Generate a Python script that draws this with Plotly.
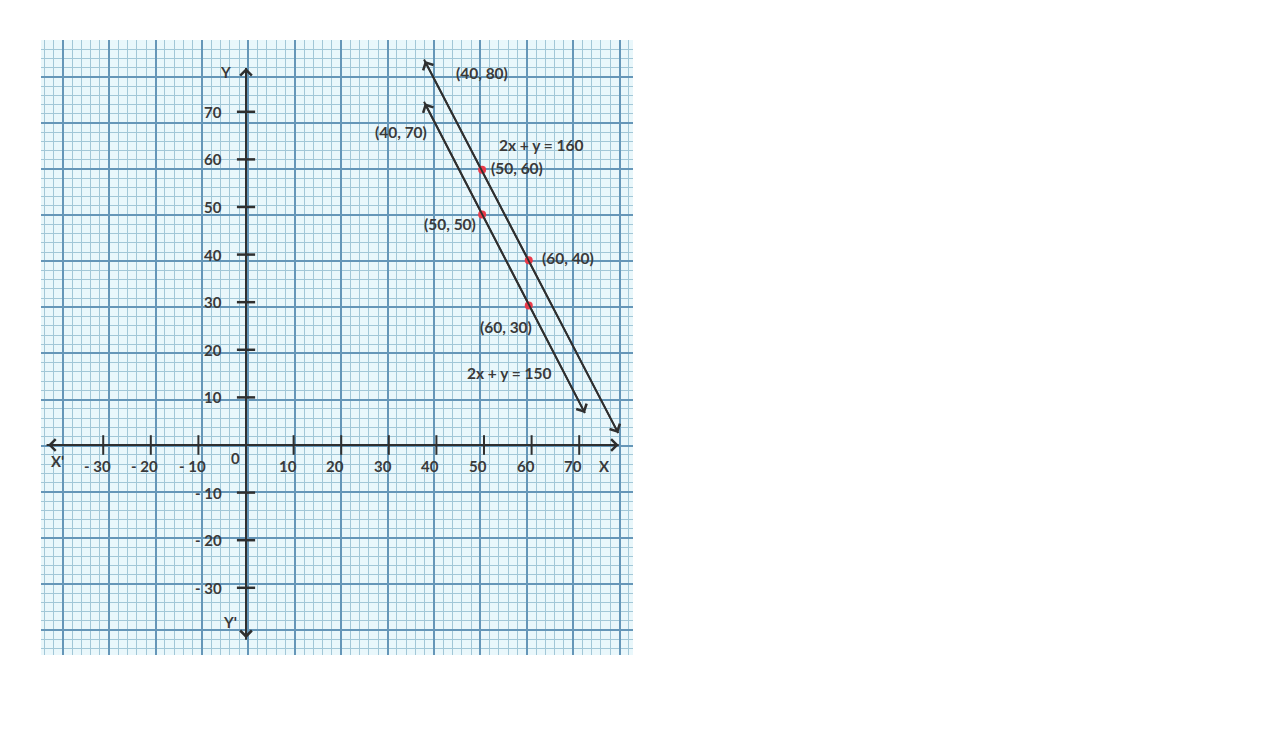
import plotly.graph_objects as go

# hand-drawn axes: tick values and their printed labels
x_ticks = [-30, -20, -10, 10, 20, 30, 40, 50, 60, 70]
x_tick_text = ["- 30", "- 20", "- 10", "10", "20", "30", "40", "50", "60", "70"]
y_ticks = [70, 60, 50, 40, 30, 20, 10, -10, -20, -30]
y_tick_text = ["70", "60", "50", "40", "30", "20", "10", "- 10", "- 20", "- 30"]

# the two lines as drawn, arrow tip to arrow tip
line160_x = [37.4, 78.2]
line160_y = [81.0, 2.5]
line150_x = [37.4, 71.2]
line150_y = [72.1, 6.7]

# red points, where they sit on the drawing
pts_x = [49.6, 59.4, 49.6, 59.4]
pts_y = [57.8, 38.8, 48.4, 29.3]

# labels written next to the lines
note_text = ["(40, 80)", "(40, 70)", "2x + y = 160", "(50, 60)",
             "(50, 50)", "(60, 40)", "(60, 30)", "2x + y = 150"]
note_x = [49.5, 32.5, 62.0, 57.0, 42.9, 67.6, 54.6, 55.3]
note_y = [78.1, 65.8, 63.0, 58.1, 46.4, 39.2, 24.7, 15.1]

INK = "#2f2f2f"
TXT = "#3a3a3a"
FONT = dict(family="Lato", size=15, color=TXT, weight="bold")
NOTE_FONT = dict(family="Lato", size=15.5, color=TXT, weight="bold")

fig = go.Figure()

# dummy trace so the graph-paper subplot is drawn
fig.add_trace(go.Scatter(x=[0], y=[0], mode="markers", marker=dict(opacity=0),
                         hoverinfo="skip", showlegend=False))


def arrow_line(xs, ys, width=2):
    fig.add_trace(go.Scatter(x=xs, y=ys, mode="lines", line=dict(color=INK, width=width),
                             xaxis="x2", yaxis="y2", hoverinfo="skip", showlegend=False))
    fig.add_annotation(x=xs[1], y=ys[1], ax=xs[0], ay=ys[0],
                       xref="x2", yref="y2", axref="x2", ayref="y2", text="",
                       showarrow=True, arrowside="end+start",
                       arrowhead=4, startarrowhead=4, arrowsize=1.25, startarrowsize=1.25,
                       arrowwidth=1.8, arrowcolor=INK)


# axes
arrow_line([-41.9, 78.3], [0, 0])
arrow_line([0, 0], [-40.9, 79.2])

fig.add_trace(go.Scatter(x=x_ticks, y=[0] * len(x_ticks), mode="markers",
                         marker=dict(symbol="line-ns", size=14, color=INK, line=dict(width=2, color=INK)),
                         xaxis="x2", yaxis="y2", hoverinfo="skip", showlegend=False))
fig.add_trace(go.Scatter(x=[0] * len(y_ticks), y=y_ticks, mode="markers",
                         marker=dict(symbol="line-ew", size=13, color=INK, line=dict(width=2.5, color=INK)),
                         xaxis="x2", yaxis="y2", hoverinfo="skip", showlegend=False))

# the two lines
arrow_line(line160_x, line160_y)
arrow_line(line150_x, line150_y)

fig.add_trace(go.Scatter(x=pts_x, y=pts_y, mode="markers",
                         marker=dict(size=8, color="#ea3a4a"),
                         xaxis="x2", yaxis="y2", hoverinfo="skip", showlegend=False))

for v, t in zip(x_ticks, x_tick_text):
    fig.add_annotation(x=v, y=0, xref="x2", yref="y2", text=t, showarrow=False,
                       xshift=-6, yshift=-21, font=FONT)
for v, t in zip(y_ticks, y_tick_text):
    fig.add_annotation(x=0, y=v, xref="x2", yref="y2", text=t, showarrow=False,
                       xanchor="right", xshift=-22, font=FONT)

for t, x, y in zip(["Y", "Y'", "X'", "X", "0"], [-4.4, -3.4, -39.5, 75.4, -2.3],
                   [78.4, -37.2, -3.4, -4.4, -2.7]):
    fig.add_annotation(x=x, y=y, xref="x2", yref="y2", text=t, showarrow=False, font=FONT)

for t, x, y in zip(note_text, note_x, note_y):
    fig.add_annotation(x=x, y=y, xref="x2", yref="y2", text=t, showarrow=False, font=NOTE_FONT)

grid = dict(showgrid=True, gridcolor="#6596b8", gridwidth=1.5, dtick=1, tick0=0,
            minor=dict(dtick=0.2, tick0=0, showgrid=True, gridcolor="#a2c7d7", gridwidth=1),
            showticklabels=False, zeroline=False, showline=False, ticks="", fixedrange=True)

fig.update_layout(
    width=1275, height=747,
    margin=dict(l=41, r=642, t=40, b=92),
    paper_bgcolor="white", plot_bgcolor="#e9f7fb",
    showlegend=False,
    xaxis=dict(range=[-0.468, 12.29], **grid),
    yaxis=dict(range=[-1.54, 11.80], **grid),
    xaxis2=dict(range=[-43.07, 81.30], overlaying="x", anchor="y2", visible=False, fixedrange=True),
    yaxis2=dict(range=[-44.12, 85.08], overlaying="y", anchor="x2", visible=False, fixedrange=True),
)

fig.write_html("out.html", config={"displayModeBar": False},
               post_script="document.body.style.margin='0';")
